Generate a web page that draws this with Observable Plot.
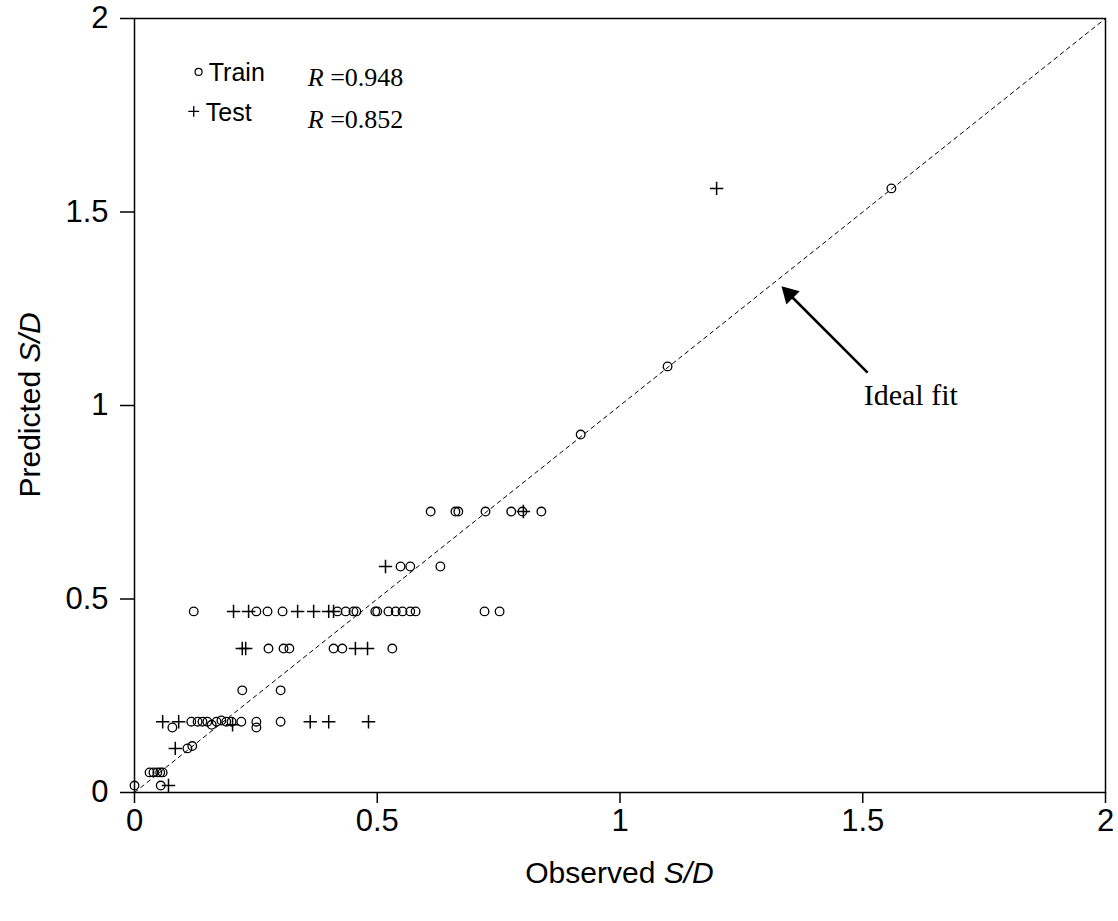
<!DOCTYPE html>
<html><head><meta charset="utf-8">
<script src="https://cdn.jsdelivr.net/npm/d3@7"></script>
<script src="https://cdn.jsdelivr.net/npm/@observablehq/plot@0.6"></script>
<style>body{margin:0;background:#fff} svg{display:block}</style>
</head><body><div id="chart"></div>
<script>
// Observed (x) and predicted (y) S/D values
const trainX = [0.000,0.054,0.031,0.039,0.047,0.053,0.058,0.109,0.119,
  0.078,0.117,0.130,0.140,0.150,0.159,0.169,0.179,0.189,0.200,0.220,0.251,0.251,0.301,
  0.222,0.301,
  0.276,0.307,0.319,0.410,0.428,0.531,
  0.122,0.251,0.274,0.305,0.418,0.435,0.451,0.457,0.496,0.500,0.523,0.538,0.552,0.568,0.579,0.721,0.752,
  0.548,0.568,0.630,
  0.610,0.661,0.667,0.723,0.776,0.799,0.838,
  0.919,1.098,1.559];
const trainY = [0.018,0.018,0.052,0.052,0.052,0.052,0.052,0.114,0.120,
  0.168,0.183,0.183,0.183,0.183,0.175,0.183,0.186,0.183,0.183,0.183,0.183,0.168,0.183,
  0.264,0.264,
  0.372,0.372,0.372,0.372,0.372,0.372,
  0.468,0.468,0.468,0.468,0.468,0.468,0.468,0.468,0.468,0.468,0.468,0.468,0.468,0.468,0.468,0.468,0.468,
  0.584,0.584,0.584,
  0.726,0.726,0.726,0.726,0.726,0.726,0.726,
  0.925,1.101,1.561];
const testX = [0.070,0.084,
  0.058,0.091,0.202,0.362,0.400,0.482,
  0.222,0.229,0.455,0.480,
  0.204,0.235,0.336,0.369,0.400,0.410,
  0.517,0.801,1.199];
const testY = [0.018,0.114,
  0.183,0.183,0.175,0.183,0.183,0.183,
  0.372,0.372,0.372,0.372,
  0.468,0.468,0.468,0.468,0.468,0.468,
  0.584,0.726,1.561];
const xTicks = [0, 0.5, 1, 1.5, 2];
const yTicks = [0, 0.5, 1, 1.5, 2];
const idealX = [0, 2];
const idealY = [0, 2];
const seriesNames = ["Train", "Test"];
const rValues = ["0.948", "0.852"];
const annotation = "Ideal fit";

const train = trainX.map((x, i) => ({x, y: trainY[i]}));
const test = testX.map((x, i) => ({x, y: testY[i]}));
const ideal = idealX.map((x, i) => ({x, y: idealY[i]}));

const fmt = d3.format("~g");
const sans = "Arial, 'Liberation Sans', sans-serif";
const serif = "'Times New Roman', 'Liberation Serif', serif";
const chart = Plot.plot({
  width: 1118, height: 921,
  marginLeft: 134, marginRight: 13, marginTop: 18, marginBottom: 129,
  style: {fontFamily: sans, background: "white", color: "black"},
  x: {domain: [0, 2]},
  y: {domain: [0, 2]},
  marks: [
    Plot.line(ideal, {x: "x", y: "y", stroke: "black", strokeWidth: 1, strokeDasharray: "4,4"}),
    Plot.dot(train, {x: "x", y: "y", r: 4.3, stroke: "black", strokeWidth: 1.3, fill: "none"}),
    Plot.dot(test, {x: "x", y: "y", symbol: "plus", r: 4.4, stroke: "black", strokeWidth: 1.5}),
    Plot.link([{x1: 1.510, y1: 1.085, x2: 1.345, y2: 1.292}], {x1: "x1", y1: "y1", x2: "x2", y2: "y2", stroke: "black", strokeWidth: 2.5}),
    Plot.dot([{x: 1.3485, y: 1.288}], {x: "x", y: "y", symbol: "triangle", r: 7, rotate: -45, fill: "black", stroke: "none"}),
    Plot.text([annotation], {x: 1.502, y: 1.025, text: d => d, textAnchor: "start", fontSize: 30, fontFamily: serif}),
    Plot.dot([seriesNames[0]], {x: 0.132, y: 1.862, r: 3.5, stroke: "black", strokeWidth: 1.2, fill: "none"}),
    Plot.dot([seriesNames[1]], {x: 0.122, y: 1.76, symbol: "plus", r: 3.6, stroke: "black", strokeWidth: 1.3}),
    Plot.text([seriesNames[0]], {x: 0.153, y: 1.86, text: d => d, textAnchor: "start", fontSize: 25}),
    Plot.text([seriesNames[1]], {x: 0.147, y: 1.757, text: d => d, textAnchor: "start", fontSize: 25}),
    Plot.frame({stroke: "black", strokeWidth: 1.5}),
    Plot.axisX({ticks: xTicks, tickSize: 11, tickPadding: 5, fontSize: 31, tickFormat: fmt, label: null, strokeWidth: 1.5}),
    Plot.axisY({ticks: yTicks, tickSize: 14, tickPadding: 12, fontSize: 31, tickFormat: fmt, label: null, strokeWidth: 1.5})
  ]
});
document.getElementById("chart").appendChild(chart);

const sx = chart.scale("x"), sy = chart.scale("y");
const svg = d3.select(chart);
const xMid = (sx.range[0] + sx.range[1]) / 2;
const yMid = (sy.range[0] + sy.range[1]) / 2;

function mixed(sel, plain, ital) {
  sel.append("tspan").text(plain);
  sel.append("tspan").attr("font-style", "italic").text(ital);
}
svg.append("text").attr("x", xMid).attr("y", 883).attr("text-anchor", "middle")
  .attr("font-size", 30).attr("font-family", sans)
  .call(t => mixed(t, "Observed ", "S/D"));
svg.append("text").attr("transform", `translate(40,${yMid}) rotate(-90)`).attr("text-anchor", "middle")
  .attr("font-size", 30).attr("font-family", sans)
  .call(t => mixed(t, "Predicted ", "S/D"));

const rPos = [[0.358, 1.848], [0.358, 1.739]];
rValues.forEach((v, i) => {
  const t = svg.append("text").attr("x", sx.apply(rPos[i][0])).attr("y", sy.apply(rPos[i][1]))
    .attr("dy", "0.35em").attr("text-anchor", "start")
    .attr("font-size", 26).attr("font-family", serif);
  t.append("tspan").attr("font-style", "italic").text("R");
  t.append("tspan").text(" =" + v);
});
</script>
</body></html>
